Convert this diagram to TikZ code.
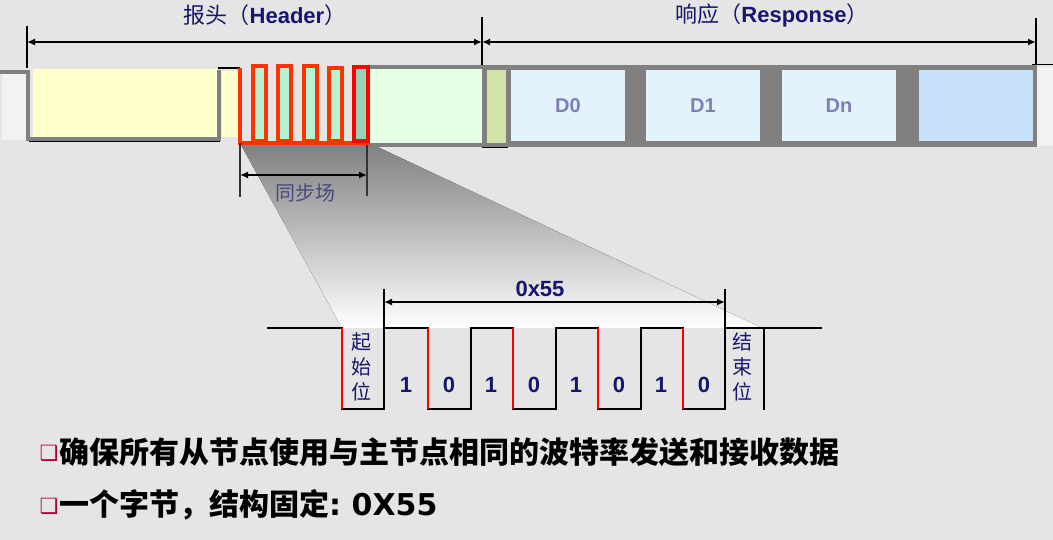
\documentclass[tikz,border=0pt]{standalone}
\usepackage{fontspec}
\setmainfont{Liberation Sans}
\newfontfamily\cjk{Noto Sans CJK SC}
\newfontfamily\dejavu{DejaVu Sans}
\usepackage{tikz}
\usetikzlibrary{arrows.meta}

\definecolor{bg}{HTML}{E5E5E5}
\definecolor{navy}{HTML}{16166E}
\definecolor{framegray}{HTML}{808080}
\definecolor{whitish}{HTML}{F2F2F2}
\definecolor{yellowbox}{HTML}{FFFFCC}
\definecolor{greenbox}{HTML}{E4FFE4}
\definecolor{olivebox}{HTML}{D2E3A6}
\definecolor{dboxblue}{HTML}{E3F3FD}
\definecolor{lastblue}{HTML}{C8E1FA}
\definecolor{dlabel}{HTML}{7F7FB5}
\definecolor{syncred}{HTML}{FF3300}
\definecolor{pulsegreen}{HTML}{B8F2D6}
\definecolor{pulsegreen2}{HTML}{96D2B6}
\definecolor{shade}{HTML}{B3B3B3}
\definecolor{synclabel}{HTML}{4A4A80}
\definecolor{bulletred}{HTML}{B00040}

\begin{document}
\begin{tikzpicture}[x=1pt,y=-1pt,
  dimline/.style={{Latex[length=8pt,width=7pt]}-{Latex[length=8pt,width=7pt]},line width=1.6pt},
  tick/.style={line width=1.8pt},
  frame/.style={framegray,line width=3.5pt},
  pulse/.style={syncred,line width=4pt,fill=pulsegreen},
  wave/.style={line width=2.5pt},
  dbox/.style={fill=dboxblue,minimum width=114pt,minimum height=71pt,inner sep=0pt,
    text=dlabel,font=\fontsize{20}{24}\selectfont\bfseries},
  title/.style={text=navy,inner sep=0pt,font=\fontsize{22}{26}\selectfont},
  bittext/.style={text=navy,inner sep=0pt,font=\fontsize{22}{26}\selectfont\bfseries},
  bitlabel/.style={text=navy,inner sep=0pt,align=center,font=\cjk\fontsize{20}{25}\selectfont},
  bullet/.style={text=bulletred,inner sep=0pt,font=\dejavu\fontsize{21}{24}\selectfont},
  point/.style={anchor=west,inner sep=0pt,font=\cjk\bfseries\fontsize{30}{36}\selectfont}]

\useasboundingbox (0,0) rectangle (1053,540);
\fill[bg] (0,0) rectangle (1053,540);

% Zoom shade
\fill[shade] (240,143) -- (369,143) -- (762,328) -- (342,328) -- cycle;

% Idle and break field
\fill[whitish] (2,70) rectangle (27,140);
\fill[yellowbox] (33,69) rectangle (217,137);
\fill[yellowbox] (222,71) rectangle (238,137);
\draw[line width=1pt] (29,142) -- (220,142);
\draw[line width=1.5pt] (218,68) -- (240,68);
\draw[frame] (0,72) -- (28,72) -- (28,139) -- (219,139) -- (219,70);

% Sync field
\draw[syncred,line width=4pt] (240,68) -- (240,143) -- (370,143);
\draw[pulse] (253,66) rectangle (266,141);
\draw[pulse] (278,66) rectangle (291,141);
\draw[pulse] (304,66) rectangle (317,141);
\draw[pulse] (329,68) rectangle (342,141);
\draw[red,line width=4pt,fill=pulsegreen2] (354,67) rectangle (368,141);

% Identifier field
\fill[greenbox] (370,69) rectangle (482,143);
\draw[frame] (370,67) -- (484,67);
\draw[frame] (370,145) -- (484,145);

% Response
\fill[framegray] (482,65) rectangle (1037,147);
\fill[olivebox] (487,70) rectangle (506,143);
\draw[line width=1pt] (482,148) -- (508,148);
\node[dbox] (d0) at (568,106) {D0};
\node[dbox] (d1) at (703,106) {D1};
\node[dbox] (dn) at (839,106) {Dn};
\node[dbox,fill=lastblue] (chk) at (976,106) {};
\fill[whitish] (1037,67) rectangle (1053,146);
\draw[line width=1pt] (1032,65) -- (1053,65);

% Dimension lines
\coordinate (hl) at (27,42);
\coordinate (hm) at (482,42);
\coordinate (hr) at (1036,42);
\draw[tick] (27,26) -- (27,68);
\draw[tick] (482,17) -- (482,65);
\draw[tick] (1036,18) -- (1036,65);
\draw[dimline] (hl) -- (hm);
\draw[dimline] (hm) -- (hr);
\node[title] (header) at (265,15) {{\cjk 报头（}{\bfseries Header}{\cjk ）}};
\node[title] (response) at (772,15) {{\cjk 响应（}{\bfseries Response}{\cjk ）}};

% Sync width
\coordinate (sl) at (240,175);
\coordinate (sr) at (367,175);
\draw[tick,black!80] (240,143) -- (240,197);
\draw[tick,black!80] (367,145) -- (367,196);
\draw[dimline] (sl) -- (sr);
\node[text=synclabel,inner sep=0pt,font=\cjk\fontsize{20}{24}\selectfont] (sync) at (305,193) {同步场};

% Byte 0x55
\draw[wave] (267,328) -- (342,328) -- (342,409) -- (384,409) -- (384,328)
  -- (428,328) -- (428,409) -- (471,409) -- (471,328)
  -- (513,328) -- (513,409) -- (556,409) -- (556,328)
  -- (598,328) -- (598,409) -- (641,409) -- (641,328)
  -- (683,328) -- (683,409) -- (725,409) -- (725,328) -- (822,328);
\draw[wave] (764,328) -- (764,410);
\draw[wave,red] (342,328) -- (342,409);
\draw[wave,red] (428,328) -- (428,409);
\draw[wave,red] (513,328) -- (513,409);
\draw[wave,red] (598,328) -- (598,409);
\draw[wave,red] (683,328) -- (683,409);

\coordinate (bl) at (384,302);
\coordinate (br) at (725,302);
\draw[tick] (384,289) -- (384,328);
\draw[tick] (725,289) -- (725,328);
\draw[dimline] (bl) -- (br);
\node[bittext] (hex) at (540,289) {0x55};

\node[bitlabel] (start) at (361,367) {起\\始\\位};
\node[bitlabel] (stop) at (742,367) {结\\束\\位};
\node[bittext] (b0) at (406,385) {1};
\node[bittext] (b1) at (449,385) {0};
\node[bittext] (b2) at (491,385) {1};
\node[bittext] (b3) at (534,385) {0};
\node[bittext] (b4) at (576,385) {1};
\node[bittext] (b5) at (619,385) {0};
\node[bittext] (b6) at (661,385) {1};
\node[bittext] (b7) at (704,385) {0};

% Notes
\node[bullet] (m1) at (49,453) {❑};
\node[point] (p1) at (59,452) {确保所有从节点使用与主节点相同的波特率发送和接收数据};
\node[bullet] (m2) at (49,506) {❑};
\node[point] (p2) at (59,505) {一个字节，结构固定{\dejavu\bfseries\fontsize{30}{36}\selectfont :~0X55}};

\end{tikzpicture}
\end{document}
